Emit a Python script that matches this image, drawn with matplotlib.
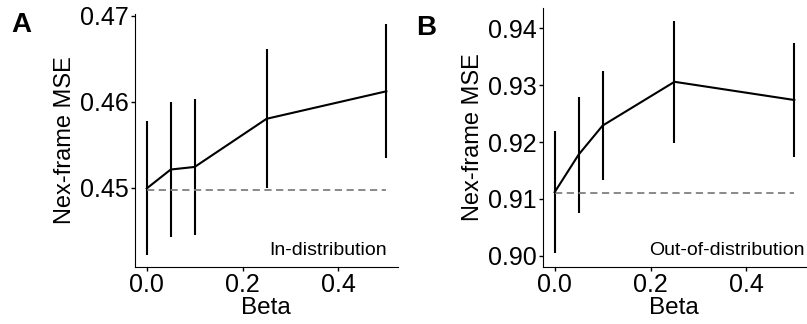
import matplotlib.pyplot as plt

plt.rcParams['font.family'] = ['Liberation Sans', 'DejaVu Sans']

# beta values shared by both panels
betas = [0.0, 0.05, 0.1, 0.25, 0.5]

# in-distribution
mse_in = [0.4499, 0.4521, 0.4524, 0.4580, 0.4612]
err_in = [0.0078, 0.0078, 0.0079, 0.0081, 0.0078]
base_in = 0.4497

# out-of-distribution
mse_out = [0.9112, 0.9178, 0.9229, 0.9306, 0.9274]
err_out = [0.0107, 0.0102, 0.0096, 0.0107, 0.0101]
base_out = 0.9110

fig = plt.figure(figsize=(8.07, 3.24), dpi=100)
axA = fig.add_axes([0.167, 0.177, 0.326, 0.780])
axB = fig.add_axes([0.6725, 0.177, 0.326, 0.797])

panels = [
    (axA, mse_in, err_in, base_in, 'In-distribution', (0.4408, 0.4702),
     [0.45, 0.46, 0.47], 'A', 0.014, 0.962, 0.96),
    (axB, mse_out, err_out, base_out, 'Out-of-distribution', (0.8981, 0.9435),
     [0.90, 0.91, 0.92, 0.93, 0.94], 'B', 0.516, 0.955, 0.995),
]

for ax, mse, err, base, name, ylim, yticks, letter, lx, ly, tx in panels:
    ax.errorbar(betas, mse, yerr=err, color='black', lw=1.5, elinewidth=1.5,
                capsize=0)
    ax.plot([0, 0.5], [base, base], color='gray', ls='--', lw=1.3, dashes=(4, 2.5))
    ax.set_xlim(-0.025, 0.524)
    ax.set_ylim(*ylim)
    ax.set_yticks(yticks)
    ax.set_yticklabels([f'{t:.2f}' for t in yticks])
    ax.set_xticks([0.0, 0.2, 0.4])
    ax.set_xticklabels(['0.0', '0.2', '0.4'])
    ax.tick_params(labelsize=18, length=3, width=1, pad=1.5)
    ax.spines['top'].set_visible(False)
    ax.spines['right'].set_visible(False)
    ax.set_xlabel('Beta', fontsize=17.5, labelpad=0)
    ax.set_ylabel('Nex-frame MSE', fontsize=17, labelpad=3)
    ax.text(tx, 0.03, name, transform=ax.transAxes, ha='right', va='bottom',
            fontsize=14)
    fig.text(lx, ly, letter, fontsize=20, fontweight='bold', va='top')

fig.savefig('out.png', dpi=100)
